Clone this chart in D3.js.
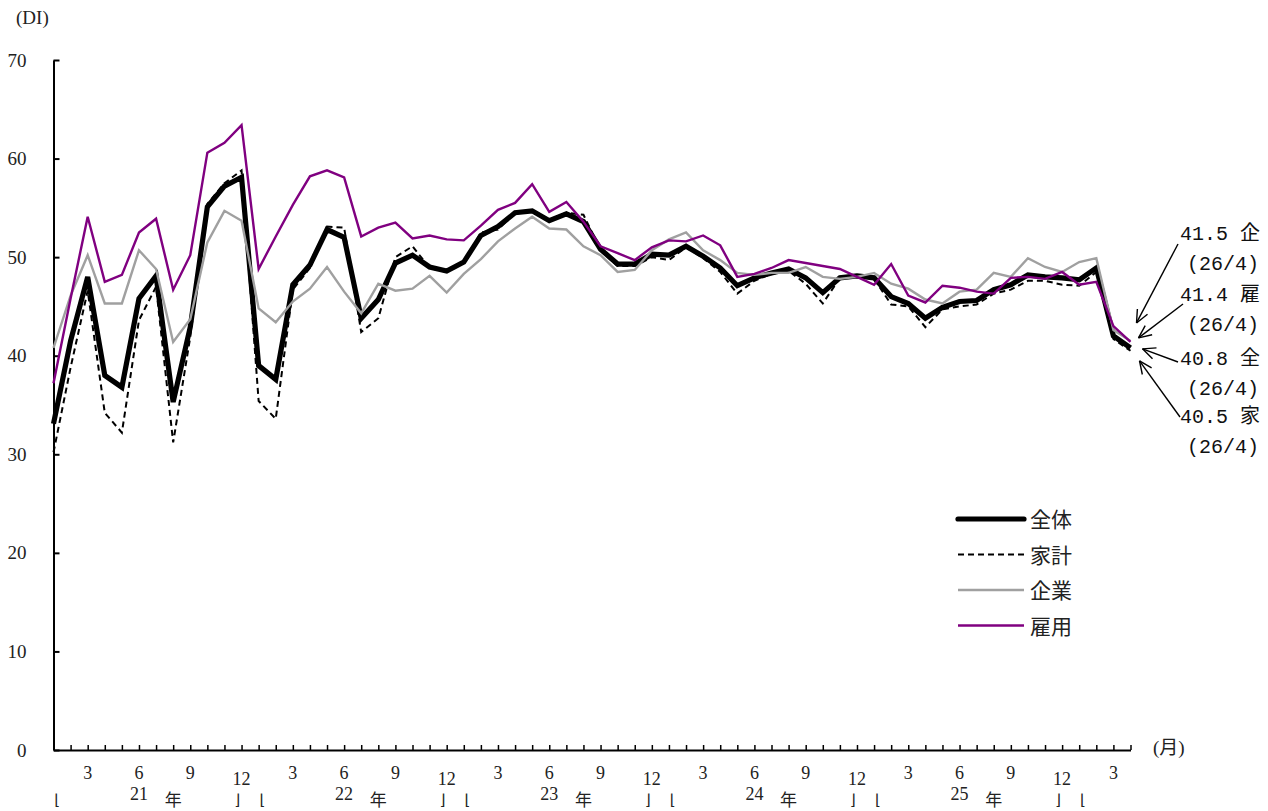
<!DOCTYPE html>
<html><head><meta charset="utf-8">
<script src="https://cdn.jsdelivr.net/npm/d3@7"></script>
<style>body{margin:0;background:#fff} svg{display:block}</style>
</head><body><svg id="c" width="1268" height="811"></svg>
<script>
// ---- data ----
const yearLabels = ["21","22","23","24","25","26"];
const lastYearMonths = 4;            // series end at 26/4
const monthTickLabels = ["3","6","9","12"];
const yTicks = [0,10,20,30,40,50,60,70];

const zentai = [33.1,41.5,48.0,38.0,36.8,45.8,48.1,35.3,42.9,55.1,57.2,58.1,
  39.0,37.6,47.2,49.2,52.8,52.0,43.8,45.7,49.4,50.2,49.0,48.6,
  49.5,52.2,53.1,54.5,54.7,53.7,54.4,53.6,50.8,49.3,49.3,50.3,
  50.2,51.1,50.1,48.9,47.1,47.9,48.4,48.8,47.9,46.4,47.9,48.1,
  47.9,46.0,45.3,43.8,44.9,45.5,45.6,46.7,47.2,48.2,48.0,47.9,
  47.7,48.9,42.0,40.8];
const kakei = [30.2,38.8,46.6,34.2,32.2,43.6,47.0,31.2,41.9,55.4,57.5,58.8,
  35.4,33.6,46.7,48.9,53.1,53.0,42.4,43.8,50.0,51.1,48.9,48.5,
  49.4,52.5,52.8,54.5,54.8,53.8,54.5,54.3,50.7,49.1,49.1,50.0,
  49.7,51.0,49.9,48.5,46.3,47.6,48.3,48.6,47.3,45.3,47.9,48.0,
  47.8,45.2,45.0,42.9,44.7,45.0,45.2,46.3,46.7,47.6,47.6,47.2,
  47.1,48.5,41.7,40.5];
const kigyo = [40.8,46.1,50.2,45.3,45.3,50.7,48.8,41.4,43.7,51.5,54.7,53.7,
  44.8,43.4,45.5,46.8,49.0,46.5,44.3,47.3,46.6,46.8,48.1,46.4,
  48.3,49.8,51.6,52.9,54.1,52.9,52.8,51.1,50.2,48.5,48.7,50.7,
  51.8,52.5,50.7,49.7,48.4,48.2,48.4,48.4,49.0,48.0,47.8,48.0,
  48.4,47.3,46.8,45.7,45.3,46.5,46.7,48.4,48.0,49.9,49.0,48.5,
  49.5,49.9,42.6,41.5];
const koyo = [37.2,45.8,54.1,47.5,48.2,52.5,53.9,46.7,50.2,60.6,61.6,63.4,
  48.8,52.1,55.3,58.2,58.8,58.1,52.1,53.0,53.5,51.9,52.2,51.8,
  51.7,53.2,54.8,55.5,57.4,54.6,55.6,53.6,51.1,50.4,49.7,51.0,
  51.7,51.6,52.2,51.2,48.0,48.3,48.9,49.7,49.4,49.1,48.8,48.0,
  47.2,49.3,46.1,45.4,47.1,46.9,46.5,46.3,47.9,48.0,47.8,48.5,
  47.2,47.5,43.0,41.4];

const seriesNames = ["全体","家計","企業","雇用"];
const latestLabels = [
  {value:"41.5", tag:"企", date:"(26/4)"},
  {value:"41.4", tag:"雇", date:"(26/4)"},
  {value:"40.8", tag:"全", date:"(26/4)"},
  {value:"40.5", tag:"家", date:"(26/4)"}
];

// ---- categories ----
const periods = [];
yearLabels.forEach((yy, yi) => {
  const nm = yi === yearLabels.length - 1 ? lastYearMonths : 12;
  for (let m = 1; m <= nm; m++) periods.push({key: yy + "/" + m, yy, m});
});

const series = [
  {name: seriesNames[0], values: zentai, stroke: "#000", width: 5.2, dash: null},
  {name: seriesNames[1], values: kakei, stroke: "#000", width: 2, dash: "6,4"},
  {name: seriesNames[2], values: kigyo, stroke: "#a0a0a0", width: 2.4, dash: null},
  {name: seriesNames[3], values: koyo, stroke: "#800080", width: 2.4, dash: null}
];

// ---- drawing ----
const svg = d3.select("#c");
const x = d3.scalePoint().domain(periods.map(p => p.key)).range([53.5, 1130.5]).padding(0);
const y = d3.scaleLinear().domain([0, 70]).range([750, 60]);
const serif = "'Liberation Serif', 'Noto Sans CJK JP', serif";
const cjk = "'Noto Sans CJK JP', sans-serif";

// y axis
const gy = svg.append("g").attr("transform", "translate(53.5,0)")
  .call(d3.axisLeft(y).tickValues(yTicks).tickSizeInner(-6).tickSizeOuter(0).tickPadding(27));
gy.select(".domain").attr("stroke", "#000").attr("stroke-width", 2);
gy.selectAll(".tick line").attr("stroke", "#000").attr("stroke-width", 2);
gy.selectAll(".tick text").attr("font-family", serif).attr("font-size", 19).attr("fill", "#222");

// x axis
const gx = svg.append("g").attr("transform", "translate(0,750)")
  .call(d3.axisBottom(x).tickSizeInner(-5).tickSizeOuter(0).tickFormat(""));
gx.select(".domain").attr("stroke", "#000").attr("stroke-width", 2.2);
gx.selectAll(".tick line").attr("stroke", "#000").attr("stroke-width", 1.5);

// month labels
const monthNums = monthTickLabels.map(Number);
svg.append("g").selectAll("text")
  .data(periods.filter(p => monthNums.includes(p.m)))
  .join("text")
  .attr("x", p => x(p.key))
  .attr("y", p => p.m === 12 ? 785 : 779)
  .attr("text-anchor", "middle")
  .attr("font-family", serif).attr("font-size", 18).attr("fill", "#222")
  .text(p => monthTickLabels[monthNums.indexOf(p.m)]);

// year labels
const fullYears = yearLabels.slice(0, -1);
const yg = svg.append("g");
fullYears.forEach(yy => {
  yg.append("text").attr("x", x(yy + "/6")).attr("y", 800).attr("text-anchor", "middle")
    .attr("font-family", serif).attr("font-size", 18).attr("fill", "#222").text(yy);
  yg.append("text").attr("x", x(yy + "/8")).attr("y", 806).attr("text-anchor", "middle")
    .attr("font-family", cjk).attr("font-size", 17).attr("fill", "#222").text("年");
});
yearLabels.forEach((yy, i) => {
  yg.append("text").attr("x", x(yy + "/1") + 4).attr("y", 805).attr("text-anchor", "middle")
    .attr("font-family", "'DejaVu Sans', sans-serif").attr("font-size", 15).attr("fill", "#222").text("⌊");
  if (i < yearLabels.length - 1)
    yg.append("text").attr("x", x(yy + "/12") - 4).attr("y", 805).attr("text-anchor", "middle")
      .attr("font-family", "'DejaVu Sans', sans-serif").attr("font-size", 15).attr("fill", "#222").text("⌋");
});

// unit labels
svg.append("text").attr("x", 16).attr("y", 24).attr("font-family", serif).attr("font-size", 19)
  .attr("fill", "#222").text("(DI)");
svg.append("text").attr("x", 1153).attr("y", 754).attr("font-family", serif).attr("font-size", 19)
  .attr("fill", "#222").text("(月)");

// lines
const line = d3.line().x((d, i) => x(periods[i].key)).y(d => y(d));
svg.append("g").selectAll("path").data(series).join("path")
  .attr("d", s => line(s.values))
  .attr("fill", "none")
  .attr("stroke", s => s.stroke)
  .attr("stroke-width", s => s.width)
  .attr("stroke-dasharray", s => s.dash)
  .attr("stroke-linejoin", "miter");

// legend
const lg = svg.append("g");
series.forEach((s, i) => {
  const ly = 519 + i * 35.5;
  lg.append("line").attr("x1", 958).attr("x2", 1024).attr("y1", ly).attr("y2", ly)
    .attr("stroke", s.stroke).attr("stroke-width", s.width).attr("stroke-dasharray", s.dash)
    .attr("stroke-linecap", i === 0 ? "round" : "butt");
  lg.append("text").attr("x", 1030).attr("y", ly + 8).attr("font-family", cjk).attr("font-size", 21)
    .attr("fill", "#222").text(s.name);
});

// latest value annotations
const lastKey = periods[periods.length - 1].key;
const annPos = [
  {ty: 232, tail: [1178, 244], tipOff: [6, -18]},
  {ty: 293, tail: [1183, 304], tipOff: [8, -4]},
  {ty: 357, tail: [1178, 362], tipOff: [12, 1]},
  {ty: 415, tail: [1180, 417], tipOff: [9, 10]}
];
const ag = svg.append("g");
const monoFont = "'Liberation Mono', 'Noto Sans CJK JP', monospace";
latestLabels.forEach((a, i) => {
  const p = annPos[i];
  const sv = [kigyo, koyo, zentai, kakei][i];
  const tipX = x(lastKey) + p.tipOff[0], tipY = y(sv[sv.length - 1]) + p.tipOff[1];
  ag.append("text").attr("x", 1180).attr("y", p.ty + 8).attr("font-family", monoFont)
    .attr("font-size", 20).attr("fill", "#111").text(a.value + " " + a.tag);
  ag.append("text").attr("x", 1187).attr("y", p.ty + 38).attr("font-family", monoFont)
    .attr("font-size", 20).attr("fill", "#111").text(a.date);
  ag.append("line").attr("x1", p.tail[0]).attr("y1", p.tail[1]).attr("x2", tipX).attr("y2", tipY)
    .attr("stroke", "#000").attr("stroke-width", 1.4);
  const ang = Math.atan2(p.tail[1] - tipY, p.tail[0] - tipX);
  const L = 14, spread = 0.42;
  [ang - spread, ang + spread].forEach(t => {
    ag.append("line").attr("x1", tipX).attr("y1", tipY)
      .attr("x2", tipX + L * Math.cos(t)).attr("y2", tipY + L * Math.sin(t))
      .attr("stroke", "#000").attr("stroke-width", 1.4);
  });
});
</script></body></html>
